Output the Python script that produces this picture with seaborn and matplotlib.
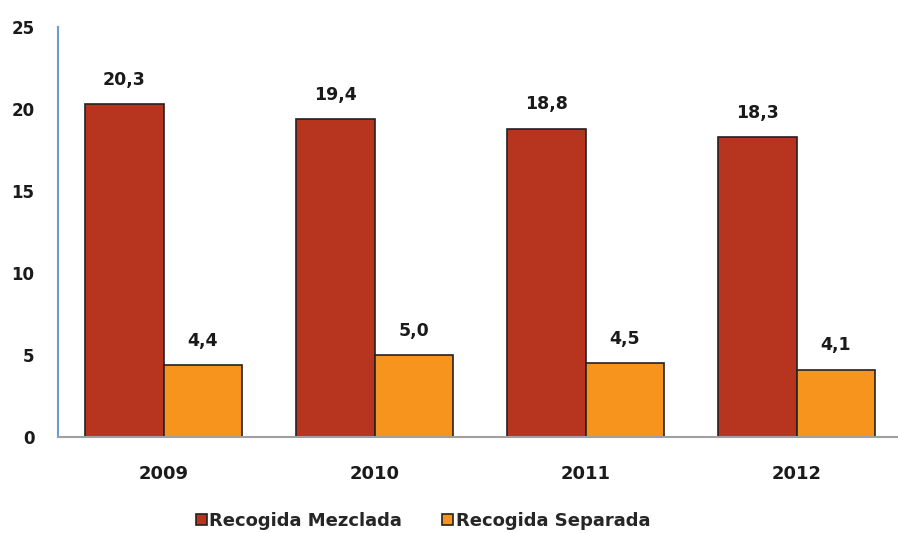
import matplotlib
matplotlib.use("Agg")
import matplotlib.pyplot as plt
import seaborn as sns
import pandas as pd

years = ["2009", "2010", "2011", "2012"]
mezclada = [20.3, 19.4, 18.8, 18.3]
separada = [4.4, 5.0, 4.5, 4.1]
series_names = ["Recogida Mezclada", "Recogida Separada"]
colors = ["#B7351E", "#F7941D"]

df = pd.DataFrame({
    "year": years * 2,
    "value": mezclada + separada,
    "serie": [series_names[0]] * len(years) + [series_names[1]] * len(years),
})

sns.set_style("white")
plt.rcParams["font.family"] = ["DejaVu Sans"]

fig = plt.figure(figsize=(8.98, 5.33), dpi=100)
ax = fig.add_axes([58 / 898, 1 - 437 / 533, 839 / 898, 410 / 533])

sns.barplot(data=df, x="year", y="value", hue="serie", palette=colors,
            width=0.74, edgecolor="#222222", linewidth=1.2, ax=ax,
            saturation=1)

for cont in ax.containers:
    labels = [f"{v:.1f}".replace(".", ",") for v in cont.datavalues]
    ax.bar_label(cont, labels=labels, padding=11, fontsize=12.5,
                 fontweight="bold", color="#1a1a1a")

ax.set_ylim(0, 25)
ax.set_xlim(-0.5, 3.476)
ax.set_yticks([0, 5, 10, 15, 20, 25])
ax.set_xlabel("")
ax.set_ylabel("")
ax.tick_params(axis="y", length=0, pad=17, labelsize=12)
ax.tick_params(axis="x", length=0, pad=20, labelsize=13)
for lbl in ax.get_xticklabels() + ax.get_yticklabels():
    lbl.set_fontweight("bold")
    lbl.set_color("#1a1a1a")

for side in ["top", "right"]:
    ax.spines[side].set_visible(False)
ax.spines["left"].set_color("#6F9BD1")
ax.spines["left"].set_linewidth(1.5)
ax.spines["bottom"].set_color("#A0A0A0")
ax.spines["bottom"].set_linewidth(1.5)

handles, labs = ax.get_legend_handles_labels()
ax.legend(handles, labs, loc="center", bbox_to_anchor=(423 / 898, 12 / 533),
          bbox_transform=fig.transFigure, ncol=2, frameon=False,
          handlelength=0.6, handleheight=0.6, handletextpad=0.15,
          columnspacing=2.2, borderpad=0,
          prop={"weight": "bold", "size": 13})

fig.savefig("out.png", dpi=100)
